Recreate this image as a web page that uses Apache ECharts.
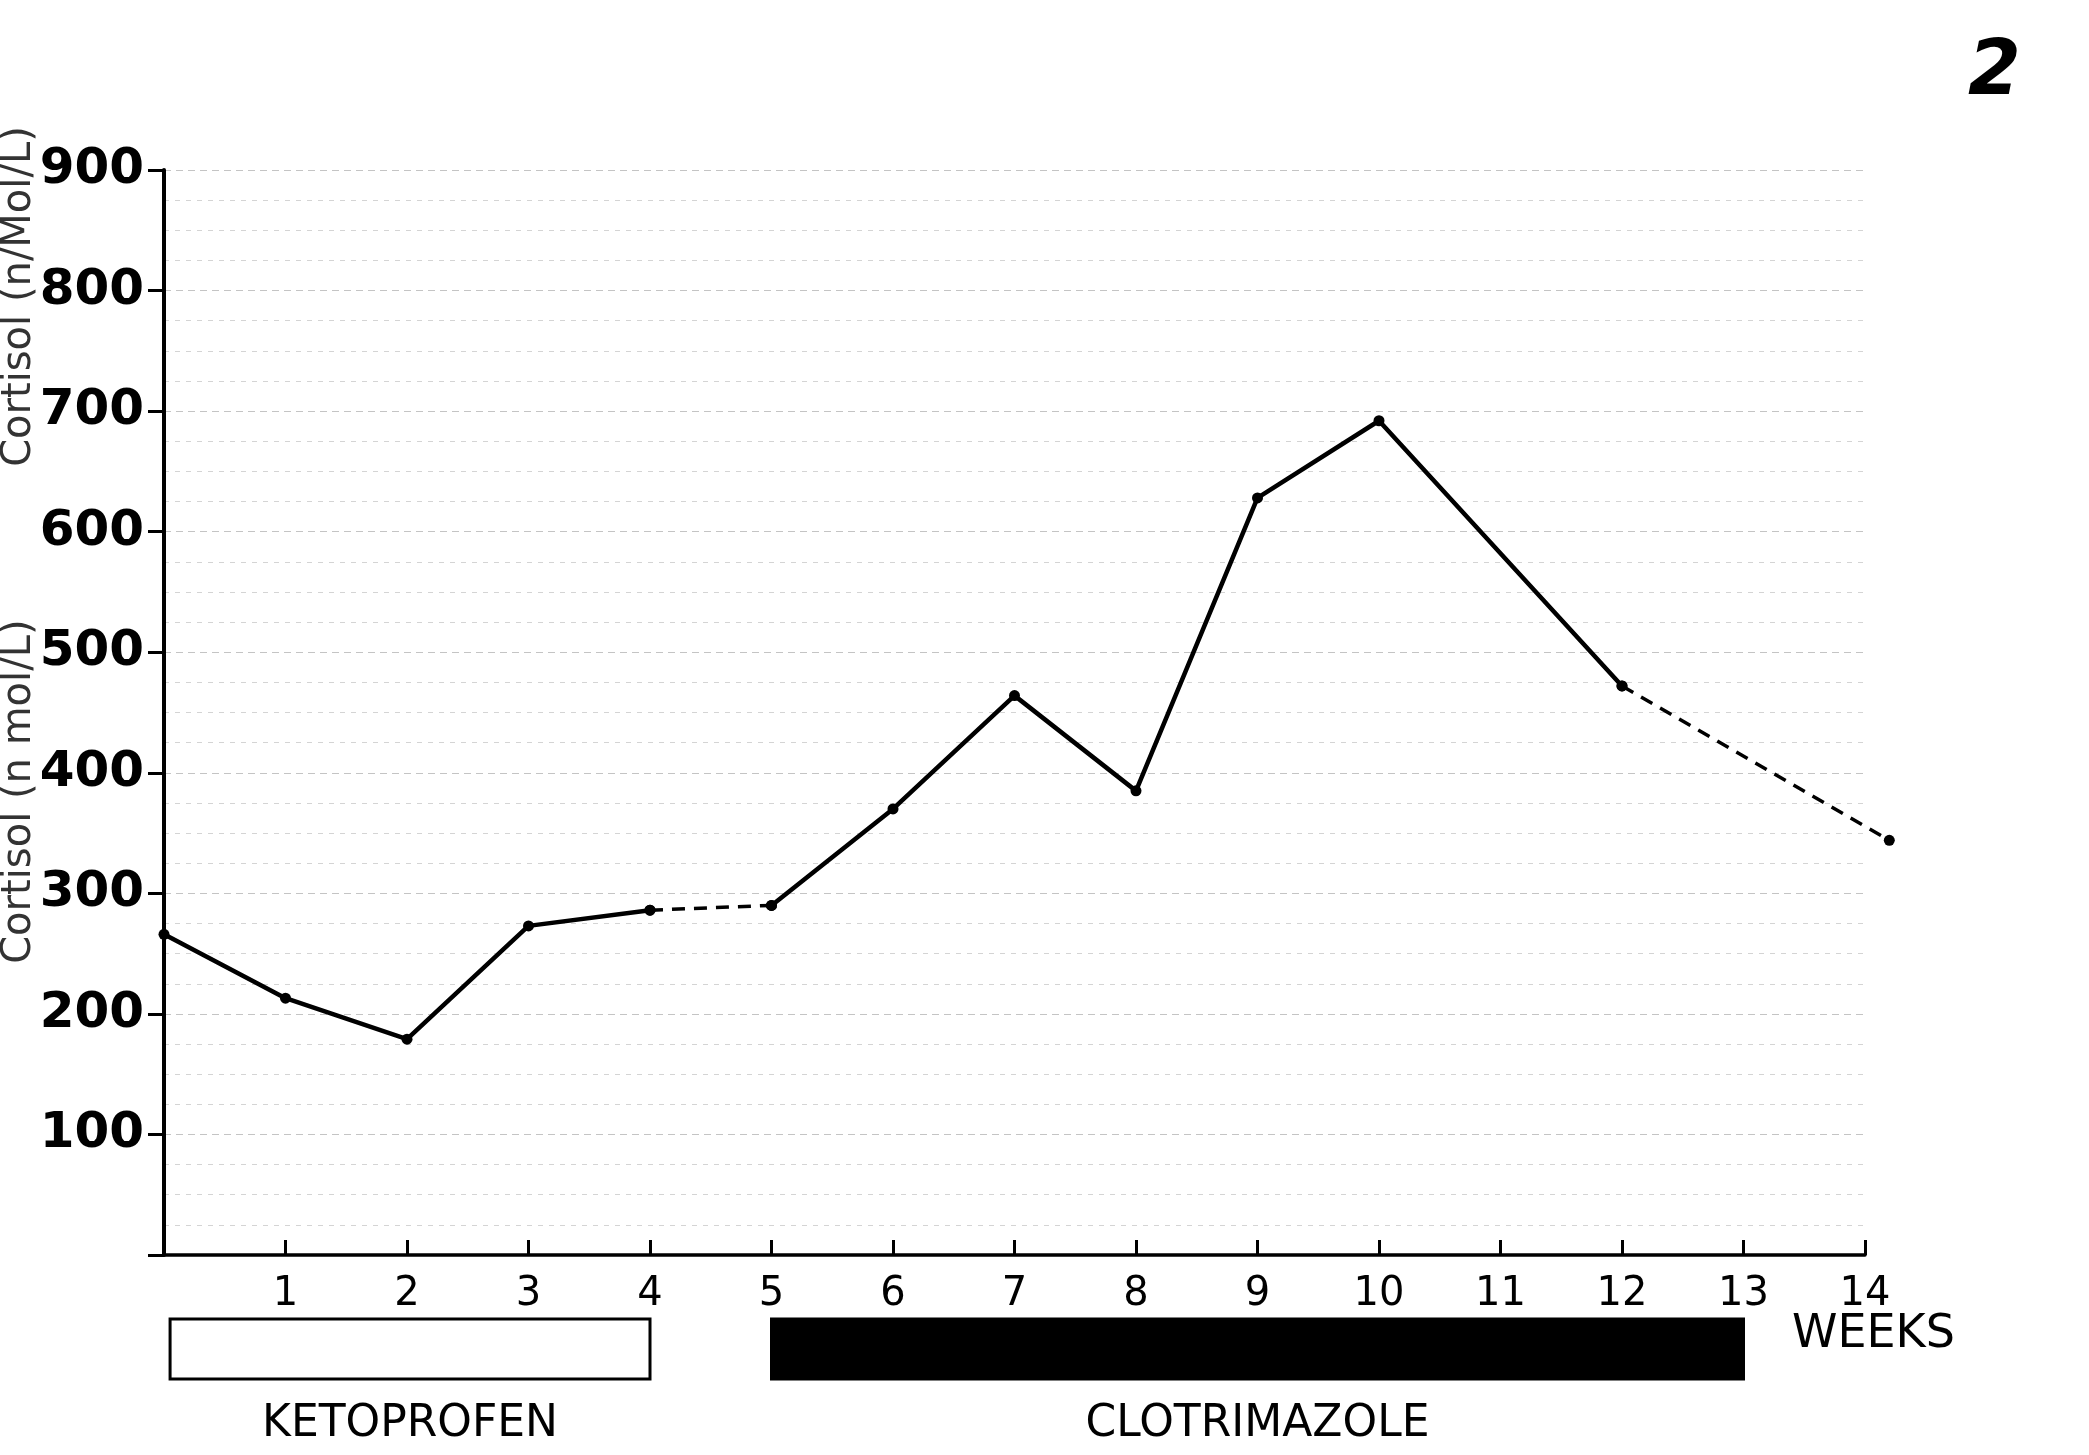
<!DOCTYPE html>
<html lang="en">
  <head>
    <meta charset="UTF-8" />
    <title>Cortisol vs weeks</title>
    <script src="https://cdn.jsdelivr.net/npm/echarts@6.0.0/dist/echarts.min.js"></script>
    <style>
      html, body { margin: 0; padding: 0; background: #fff; }
      #main { width: 2089px; height: 1455px; }
    </style>
  </head>
  <body>
    <div id="main"></div>

    <script>
      // values
      const weeks = [0, 1, 2, 3, 4, 5, 6, 7, 8, 9, 10, 12, 14.2];
      const cortisol = [266, 213, 179, 273, 286, 290, 370, 464, 385, 628, 692, 472, 344];
      // index ranges drawn solid / dashed
      const solidRuns = [[0, 4], [5, 11]];
      const dashedRuns = [[4, 5], [11, 12]];

      const treatNames = ['KETOPROFEN', 'CLOTRIMAZOLE'];
      const treatStart = [0.05, 5];
      const treatEnd = [4, 13];
      const treatFilled = [0, 1];

      const yTicks = [100, 200, 300, 400, 500, 600, 700, 800, 900];
      const yTitle = 'Cortisol (n mol/L)            Cortisol (n/Mol/L)';

      const pts = weeks.map((w, i) => [w, cortisol[i]]);
      const font = '"DejaVu Sans", sans-serif';

      const plotLeft = 164;
      const plotWidth = 1701; // weeks 0..14
      const lineMax = 15; // hidden axis for the line, so the last point (past 14) is not clipped

      const lineSeries = (runs, dashed) =>
        runs.map(([a, b]) => ({
          type: 'line',
          xAxisIndex: 2,
          yAxisIndex: 2,
          data: pts.slice(a, b + 1),
          symbol: 'circle',
          symbolSize: 11,
          itemStyle: { color: '#000' },
          lineStyle: { color: '#000', width: dashed ? 3.5 : 4.5, type: dashed ? [13, 9] : 'solid' },
          silent: true,
          z: 3,
        }));

      const chart = echarts.init(document.getElementById('main'));

      chart.setOption({
        backgroundColor: '#fff',
        animation: false,
        grid: [
          { left: plotLeft, top: 170, width: plotWidth, height: 1085, outerBoundsMode: 'none' },
          { left: plotLeft, top: 1319, width: plotWidth, height: 60, outerBoundsMode: 'none' },
          { left: plotLeft, top: 170, width: (plotWidth * lineMax) / 14, height: 1085, outerBoundsMode: 'none' },
        ],
        xAxis: [
          {
            type: 'value',
            min: 0,
            max: 14,
            interval: 1,
            axisLine: { lineStyle: { color: '#000', width: 3.5 } },
            axisTick: { inside: true, length: 15, lineStyle: { color: '#000', width: 3 } },
            axisLabel: {
              margin: 20,
              fontFamily: font,
              fontSize: 40,
              color: '#000',
              formatter: (v) => (v === 0 ? '' : String(v)),
            },
            splitLine: { show: false },
          },
          { gridIndex: 1, type: 'value', min: 0, max: 14, show: false },
          { gridIndex: 2, type: 'value', min: 0, max: lineMax, show: false },
        ],
        yAxis: [
          {
            type: 'value',
            min: 0,
            max: 900,
            interval: 100,
            axisLine: { show: true, lineStyle: { color: '#000', width: 4 } },
            axisTick: { show: true, length: 16, lineStyle: { color: '#000', width: 3 } },
            axisLabel: {
              margin: 20,
              fontFamily: font,
              fontSize: 50,
              fontWeight: 'bold',
              color: '#000',
              formatter: (v) => (yTicks.includes(v) ? String(v) : ''),
            },
            splitLine: { show: true, lineStyle: { color: '#c4c4c4', width: 1.2, type: [7, 5] } },
            minorTick: { show: false, splitNumber: 4 },
            minorSplitLine: { show: true, lineStyle: { color: '#d4d4d4', width: 1, type: [5, 6] } },
          },
          { gridIndex: 1, type: 'value', min: 0, max: 1, show: false },
          { gridIndex: 2, type: 'value', min: 0, max: 900, show: false },
        ],
        graphic: [
          {
            type: 'text',
            x: 20,
            y: 545,
            rotation: Math.PI / 2,
            style: {
              text: yTitle,
              fontFamily: font,
              fontSize: 40,
              fill: '#333',
              align: 'center',
              verticalAlign: 'middle',
            },
          },
          {
            type: 'text',
            left: 1792,
            top: 1312,
            style: { text: 'WEEKS', fontFamily: font, fontSize: 46, fill: '#000' },
          },
          {
            type: 'text',
            left: 1968,
            top: 36,
            style: { text: '2', fontFamily: font, fontSize: 76, fontStyle: 'italic', fontWeight: 'bold', fill: '#000' },
          },
        ],
        series: [
          ...lineSeries(solidRuns, false),
          ...lineSeries(dashedRuns, true),
          {
            type: 'custom',
            xAxisIndex: 1,
            yAxisIndex: 1,
            clip: false,
            silent: true,
            data: treatNames.map((n, i) => [treatStart[i], treatEnd[i], treatFilled[i]]),
            renderItem: (params, api) => {
              const p0 = api.coord([api.value(0), 1]);
              const p1 = api.coord([api.value(1), 0]);
              const filled = api.value(2) === 1;
              return {
                type: 'group',
                children: [
                  {
                    type: 'rect',
                    shape: { x: p0[0], y: p0[1], width: p1[0] - p0[0], height: p1[1] - p0[1] },
                    style: { fill: filled ? '#000' : '#fff', stroke: '#000', lineWidth: 3 },
                  },
                  {
                    type: 'text',
                    x: (p0[0] + p1[0]) / 2,
                    y: p1[1] + 46,
                    style: {
                      text: treatNames[params.dataIndex],
                      fontFamily: font,
                      fontSize: 44,
                      fill: '#000',
                      align: 'center',
                      verticalAlign: 'middle',
                    },
                  },
                ],
              };
            },
          },
        ],
      });

      window.onresize = function () {
        chart.resize();
      };
    </script>
  </body>
</html>
